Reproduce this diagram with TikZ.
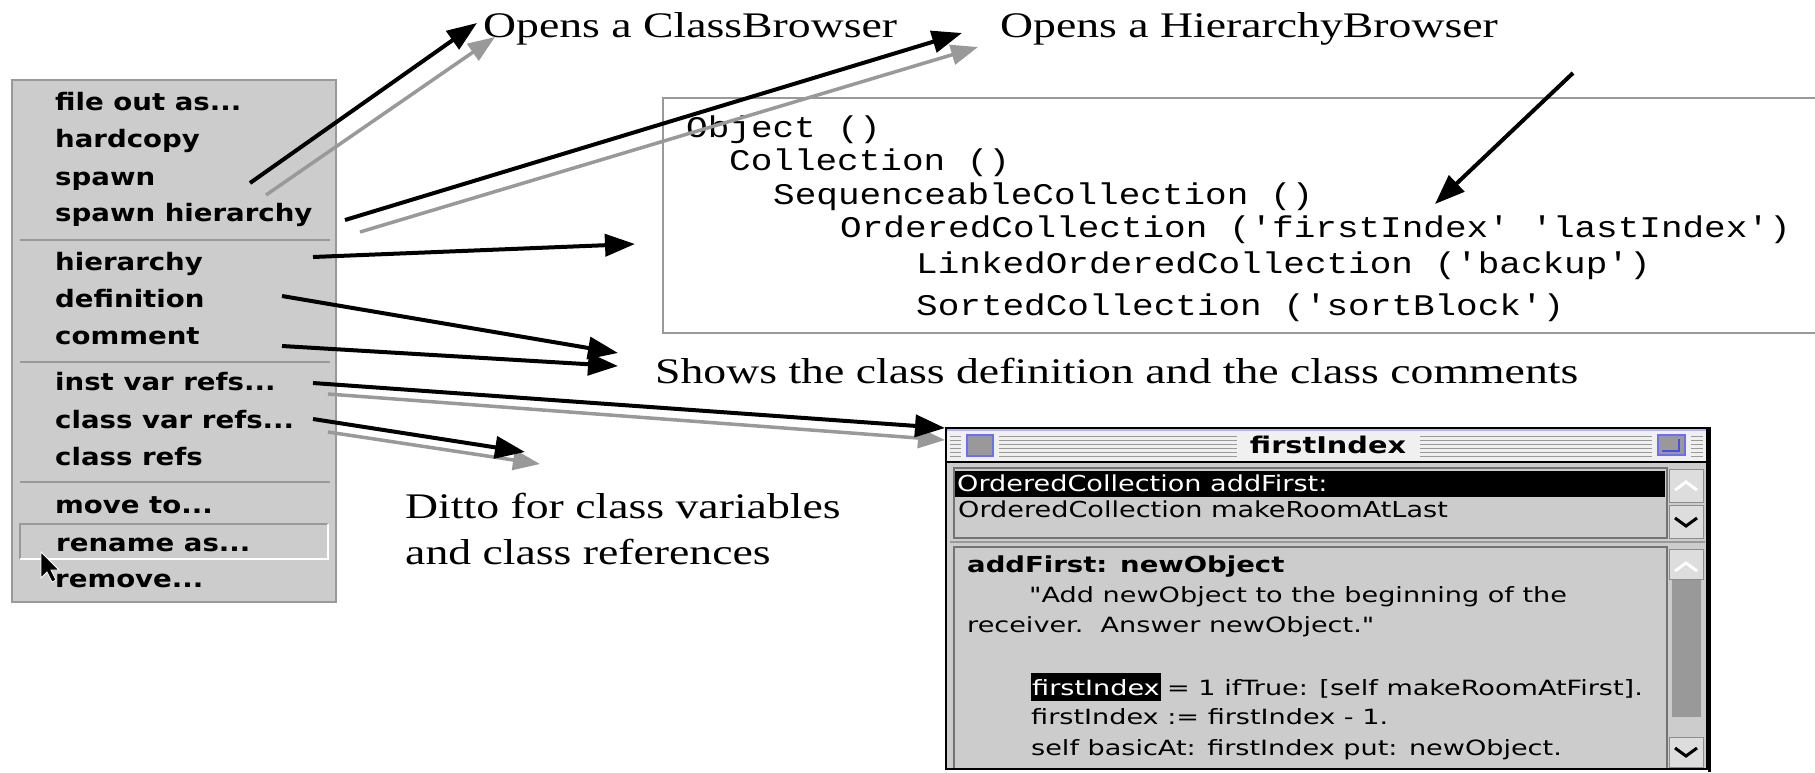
\documentclass[tikz,border=0pt]{standalone}
\usepackage{fontspec}
\usetikzlibrary{arrows.meta}
\newfontfamily\annfont{Liberation Serif}[FakeStretch=1.27]
\newfontfamily\chicfont{DejaVu Sans}[FakeStretch=1.15]
\newfontfamily\titlefont{DejaVu Sans}[FakeStretch=1.25]
\newfontfamily\genfont{DejaVu Sans}[FakeStretch=1.29]
\newfontfamily\listfont{DejaVu Sans}[FakeStretch=1.27]
\newfontfamily\codefont{Liberation Mono}[FakeStretch=1.2]
\newcommand{\narrowlist}[1]{\scalebox{0.97}[1]{#1}}
\definecolor{menubg}{HTML}{CCCCCC}
\definecolor{edgegray}{HTML}{999999}
\definecolor{arrgray}{HTML}{999999}
\definecolor{lav}{HTML}{B8B8E8}
\definecolor{btn}{HTML}{DDDDDD}
\definecolor{titlebg}{HTML}{F0F0F0}
\definecolor{stripe}{HTML}{9A9A9A}
\tikzset{
  ann/.style={anchor=base west, inner sep=0pt, font=\annfont\fontsize{36}{40}\selectfont},
  mitem/.style={anchor=base west, inner sep=0pt, font=\chicfont\bfseries\fontsize{24}{26}\selectfont},
  codeline/.style={anchor=base west, inner sep=0pt, font=\codefont\fontsize{30}{32}\selectfont},
  gtext/.style={anchor=base west, inner sep=0pt, font=\genfont\fontsize{21}{24}\selectfont},
  ltext/.style={anchor=base west, inner sep=0pt, font=\listfont\fontsize{22}{24}\selectfont},
  gbold/.style={anchor=base west, inner sep=0pt, font=\titlefont\bfseries\fontsize{22}{24}\selectfont},
  blkarrow/.style={draw=black, line width=4pt, -{Triangle[length=30pt,width=22pt]}},
  gryarrow/.style={draw=arrgray, line width=3.5pt, -{Triangle[length=27pt,width=20pt]}},
  sepline/.style={draw=edgegray, line width=1.5pt},
}
\begin{document}
\begin{tikzpicture}[x=1pt,y=-1pt]
\useasboundingbox (0,0) rectangle (1815,772);
\fill[white] (0,0) rectangle (1815,772);

% ---------------- menu ----------------
\fill[menubg] (12,80) rectangle (336,602);
\draw[edgegray, line width=2.5pt] (12,80) rectangle (336,602);
\draw[sepline] (20,240) -- (330,240);
\draw[sepline] (20,362) -- (330,362);
\draw[sepline] (20,482) -- (330,482);
\draw[edgegray, line width=2pt] (20,559) -- (20,524) -- (328,524);
\draw[white, line width=2pt] (20,559) -- (328,559) -- (328,524);

\node[mitem] (m1) at (55,110) {file out as...};
\node[mitem] (m2) at (55,147) {hardcopy};
\node[mitem] (m3) at (55,185) {spawn};
\node[mitem] (m4) at (55,221) {spawn hierarchy};
\node[mitem] (m5) at (55,270) {hierarchy};
\node[mitem] (m6) at (55,307) {definition};
\node[mitem] (m7) at (55,344) {comment};
\node[mitem] (m8) at (55,390) {inst var refs...};
\node[mitem] (m9) at (55,428) {class var refs...};
\node[mitem] (m10) at (55,465) {class refs};
\node[mitem] (m11) at (55,513) {move to...};
\node[mitem] (m12) at (56,551) {rename as...};
\node[mitem] (m13) at (55,587) {remove...};

% cursor
\filldraw[fill=black, draw=white, line width=0.8pt]
  (41,552) -- (41,578) -- (47,572) -- (52,582) -- (56,580) -- (51,570) -- (59,570) -- cycle;

% ---------------- annotations ----------------
\node[ann] (cb) at (483,37) {Opens a ClassBrowser};
\node[ann] (hb) at (1000,37) {Opens a HierarchyBrowser};
\node[ann] (shows) at (655,383) {Shows the class definition and the class comments};
\node[ann] (ditto1) at (405,518) {Ditto for class variables};
\node[ann] (ditto2) at (405,564) {and class references};

% ---------------- hierarchy box ----------------
\draw[edgegray, line width=2pt] (1816,98) -- (663,98) -- (663,333) -- (1816,333);
\node[codeline] (h1) at (686,137) {Object ()};
\node[codeline] (h2) at (729,170) {Collection ()};
\node[codeline] (h3) at (773,204) {SequenceableCollection ()};
\node[codeline] (h4) at (840,237) {OrderedCollection ('firstIndex' 'lastIndex')};
\node[codeline] (h5) at (916,273) {LinkedOrderedCollection ('backup')};
\node[codeline] (h6) at (916,315) {SortedCollection ('sortBlock')};

% ---------------- window ----------------
\fill[menubg] (946,428) rectangle (1707,769);
\fill[titlebg] (947,429) rectangle (1706,461);
\draw[lav, line width=1.5pt] (947,430) -- (1706,430);
\foreach \yy in {436,440,444,448,452,456} {
  \draw[stripe, line width=1pt] (950,\yy) -- (1237,\yy);
  \draw[stripe, line width=1pt] (1420,\yy) -- (1703,\yy);
}
\fill[titlebg] (961,432) rectangle (999,459);
\fill[titlebg] (1652,432) rectangle (1691,459);
\filldraw[fill=edgegray, draw=lav!60!blue, line width=1.5pt] (967,435) rectangle (993,456);
\filldraw[fill=edgegray, draw=lav!60!blue, line width=1.5pt] (1658,435) rectangle (1685,455);
\draw[lav!40!blue, line width=1.5pt] (1662,451) -- (1679,451) -- (1679,439);
\node[anchor=base, inner sep=0pt, font=\titlefont\bfseries\fontsize{23}{24}\selectfont] (title) at (1328,453) {firstIndex};
\draw[black, line width=2.5pt] (946,462) -- (1707,462);

% list pane
\draw[black!55, line width=1.5pt] (954,468) rectangle (1667,538);
\fill[black] (955,471) rectangle (1665,497);
\node[ltext, text=white] (l1) at (957,491) {\narrowlist{OrderedCollection addFirst:}};
\node[ltext] (l2) at (958,517) {\narrowlist{OrderedCollection makeRoomAtLast}};
\filldraw[fill=btn, draw=black!45, line width=1pt] (1669,469) rectangle (1703,502);
\filldraw[fill=btn, draw=black!45, line width=1pt] (1669,505) rectangle (1703,538);
\draw[white, line width=3pt] (1675,490) -- (1686,482) -- (1697,490);
\draw[black, line width=3pt] (1675,518) -- (1686,526) -- (1697,518);
\draw[edgegray, line width=2pt] (950,542) -- (1705,542);

% code pane
\draw[black!55, line width=1.5pt] (954,547) rectangle (1667,769);
\filldraw[fill=btn, draw=black!45, line width=1pt] (1669,549) rectangle (1703,579);
\draw[white, line width=3pt] (1675,571) -- (1686,563) -- (1697,571);
\fill[black!40] (1672,580) rectangle (1701,717);
\filldraw[fill=btn, draw=black!45, line width=1pt] (1669,737) rectangle (1703,767);
\draw[black, line width=3pt] (1675,748) -- (1686,756) -- (1697,748);

\node[gbold] (c0) at (967,572) {addFirst: newObject};
\node[gtext] (c1) at (1029,602) {"Add newObject to the beginning of the};
\node[gtext] (c2) at (967,632) {receiver.\ \ Answer newObject."};
\node[gtext, text=white, fill=black, inner xsep=1pt, inner ysep=6pt] (c3a) at (1031,695) {firstIndex};
\node[gtext] (c3b) at ([xshift=6pt]c3a.base east) {= 1 ifTrue: [self makeRoomAtFirst].};
\node[gtext] (c4) at (1031,724) {firstIndex := firstIndex - 1.};
\node[gtext] (c5) at (1031,755) {self basicAt: firstIndex put: newObject.};

% window frame
\draw[black, line width=2pt] (946,428) rectangle (1707,769);
\draw[black, line width=3pt] (1709,427) -- (1709,772);

% ---------------- arrow endpoints ----------------
\coordinate (aSpawnB) at (250,183);
\coordinate (aSpawnG) at (266,195);
\coordinate (tCbB) at (477,23);
\coordinate (tCbG) at (495,37);
\coordinate (aHierB) at (345,220);
\coordinate (aHierG) at (360,232);
\coordinate (tHbB) at (962,33);
\coordinate (tHbG) at (978,47);
\coordinate (aHier) at (313,257);
\coordinate (tBox) at (635,244);
\coordinate (aDef) at (282,296);
\coordinate (tDef) at (618,353);
\coordinate (aCom) at (282,346);
\coordinate (tCom) at (618,366);
\coordinate (aInstB) at (313,383);
\coordinate (aInstG) at (328,394);
\coordinate (tWinB) at (945,428);
\coordinate (tWinG) at (945,440);
\coordinate (aCvB) at (313,419);
\coordinate (aCvG) at (328,432);
\coordinate (tDitB) at (525,452);
\coordinate (tDitG) at (540,464);
\coordinate (aTop) at (1573,73);
\coordinate (tIdx) at (1435,204);

% ---------------- arrows ----------------
\draw[gryarrow] (aSpawnG) -- (tCbG);
\draw[blkarrow] (aSpawnB) -- (tCbB);
\draw[gryarrow] (aHierG) -- (tHbG);
\draw[blkarrow] (aHierB) -- (tHbB);
\draw[blkarrow] (aHier) -- (tBox);
\draw[blkarrow] (aDef) -- (tDef);
\draw[blkarrow] (aCom) -- (tCom);
\draw[gryarrow] (aInstG) -- (tWinG);
\draw[blkarrow] (aInstB) -- (tWinB);
\draw[gryarrow] (aCvG) -- (tDitG);
\draw[blkarrow] (aCvB) -- (tDitB);
\draw[blkarrow] (aTop) -- (tIdx);
\end{tikzpicture}
\end{document}
